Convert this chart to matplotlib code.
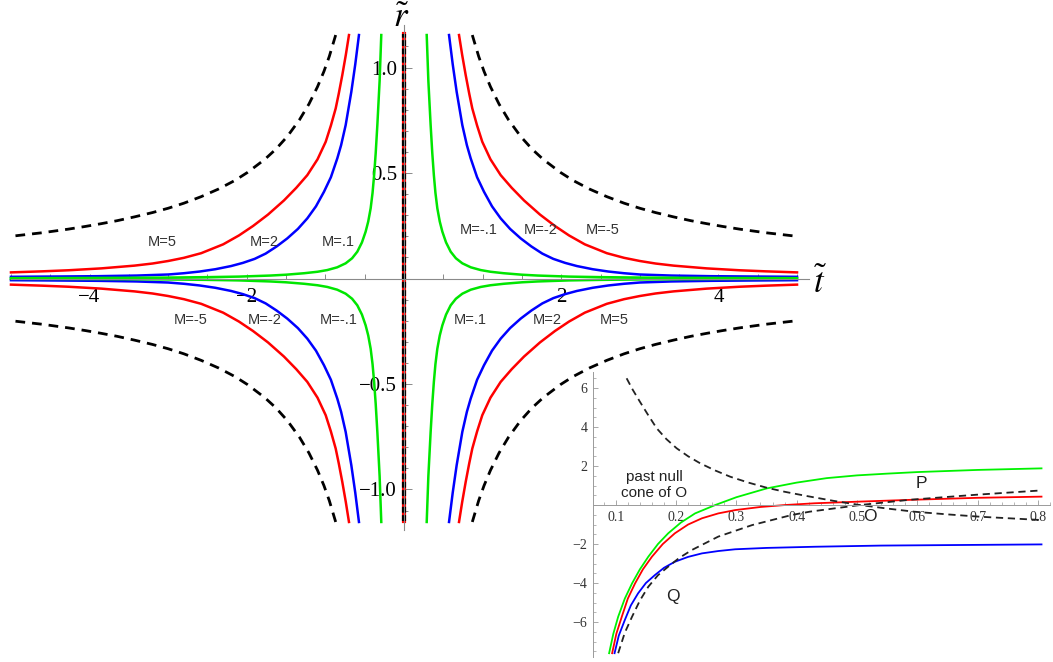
import numpy as np
import matplotlib.pyplot as plt
from matplotlib.ticker import FixedLocator, MultipleLocator

plt.rcParams['mathtext.fontset'] = 'stix'
SERIF = 'Liberation Serif'
SANS = 'Liberation Sans'

# main panel: one quadrant (t > 0, r > 0) of each curve;
# the other three quadrants are mirror images
t_dash = [0.869, 0.95, 1.018, 1.1, 1.209, 1.33, 1.485, 1.63, 1.77, 1.99, 2.15, 2.36, 2.58,
          2.8, 3.0, 3.2, 3.43, 3.65, 3.85, 4.05, 4.27, 4.6, 5.0]
r_dash = [1.154, 1.053, 0.982, 0.909, 0.827, 0.752, 0.673, 0.613, 0.565, 0.503, 0.465, 0.424, 0.388,
          0.357, 0.333, 0.3125, 0.292, 0.274, 0.26, 0.247, 0.234, 0.217, 0.20]

t_red = [0.70, 0.74, 0.785, 0.83, 0.869, 0.93, 0.996, 1.1, 1.23, 1.37, 1.527, 1.73, 1.92,
         2.1, 2.30, 2.58, 2.8, 3.0, 3.2, 3.43, 3.85, 4.27, 4.6, 5.0]
r_red = [1.154, 1.06, 0.964, 0.876, 0.806, 0.725, 0.648, 0.565, 0.49, 0.43, 0.37, 0.303, 0.249,
         0.204, 0.162, 0.12, 0.098, 0.083, 0.071, 0.061, 0.048, 0.039, 0.034, 0.029]

t_blue = [0.573, 0.62, 0.67, 0.742, 0.80, 0.848, 0.93, 1.018, 1.12, 1.23, 1.35, 1.485, 1.62,
          1.76, 1.9, 2.05, 2.2, 2.4, 2.6, 2.8, 3.0, 3.4, 3.9, 4.4, 5.0]
r_blue = [1.154, 1.015, 0.885, 0.727, 0.632, 0.57, 0.48, 0.411, 0.342, 0.285, 0.235, 0.19, 0.152,
          0.118, 0.093, 0.074, 0.059, 0.044, 0.033, 0.025, 0.019, 0.014, 0.011, 0.0095, 0.008]

t_green = [0.289, 0.31, 0.339, 0.36, 0.38, 0.40, 0.424, 0.455, 0.488, 0.535, 0.594, 0.66, 0.742,
           0.85, 0.976, 1.1, 1.27, 1.5, 1.7, 2.1, 2.5, 3.0, 3.5, 4.2, 5.0]
r_green = [1.154, 0.937, 0.727, 0.594, 0.49, 0.406, 0.333, 0.27, 0.222, 0.171, 0.127, 0.096, 0.072,
           0.053, 0.040, 0.032, 0.025, 0.018, 0.014, 0.009, 0.0065, 0.0045, 0.0033, 0.0023, 0.0016]

# M labels per quadrant (upper-left, upper-right, lower-left, lower-right)
labels_ul = ['M=5', 'M=2', 'M=.1']
labels_ur = ['M=-.1', 'M=-2', 'M=-5']
labels_ll = ['M=-5', 'M=-2', 'M=-.1']
labels_lr = ['M=.1', 'M=2', 'M=5']

# inset panel
u_green = [0.089, 0.096, 0.104, 0.115, 0.127, 0.14, 0.154, 0.17, 0.187, 0.208, 0.2315, 0.265,
           0.30, 0.35, 0.40, 0.45, 0.50, 0.55, 0.60, 0.70, 0.806]
v_green = [-7.6, -6.6, -5.73, -4.8, -4.02, -3.3, -2.65, -2.0, -1.45, -0.9, -0.43, 0.0,
           0.40, 0.85, 1.15, 1.38, 1.52, 1.61, 1.69, 1.80, 1.88]

u_red = [0.094, 0.101, 0.110, 0.12, 0.132, 0.145, 0.160, 0.178, 0.198, 0.22, 0.243, 0.27,
         0.298, 0.34, 0.381, 0.43, 0.50, 0.588, 0.70, 0.806]
v_red = [-7.6, -6.6, -5.73, -4.8, -4.02, -3.3, -2.65, -2.0, -1.45, -1.0, -0.68, -0.43,
         -0.26, -0.1, 0.0, 0.09, 0.17, 0.265, 0.37, 0.43]

u_blue = [0.098, 0.105, 0.115, 0.125, 0.137, 0.15, 0.165, 0.18, 0.198, 0.22, 0.243, 0.27,
          0.298, 0.35, 0.43, 0.54, 0.806]
v_blue = [-7.6, -6.7, -5.9, -5.15, -4.53, -4.0, -3.59, -3.22, -2.91, -2.66, -2.48, -2.36,
          -2.27, -2.2, -2.14, -2.08, -2.02]

u_cone_up = [0.104, 0.115, 0.127, 0.14, 0.154, 0.17, 0.187, 0.205, 0.226, 0.270, 0.326, 0.392,
             0.422, 0.505, 0.588, 0.699, 0.806]
v_cone_up = [-7.6, -6.55, -5.73, -4.9, -4.19, -3.6, -3.16, -2.72, -2.31, -1.62, -1.03, -0.51,
             -0.34, 0.0, 0.27, 0.53, 0.75]

u_cone_down = [0.118, 0.128, 0.140, 0.153, 0.168, 0.184, 0.201, 0.22, 0.240, 0.265, 0.290, 0.32,
               0.350, 0.38, 0.417, 0.46, 0.505, 0.55, 0.594, 0.65, 0.704, 0.806]
v_cone_down = [6.5, 5.92, 5.3, 4.65, 3.93, 3.38, 2.91, 2.5, 2.14, 1.77, 1.45, 1.15,
               0.89, 0.68, 0.46, 0.22, 0.0, -0.18, -0.34, -0.48, -0.6, -0.77]

fig = plt.figure(figsize=(10.53, 6.62), dpi=100)

# ---------- main panel ----------
ax = fig.add_axes([0.00294, 0.1905, 0.7689, 0.7776])
ax.set_xlim(-5.1, 5.2)
ax.set_ylim(-1.22, 1.22)
ax.patch.set_alpha(0)

for sx in (-1, 1):
    for sy in (-1, 1):
        ax.plot(sx * np.array(t_dash), sy * np.array(r_dash), color='black', lw=2, dashes=(3.5, 2.5))
        ax.plot(sx * np.array(t_red), sy * np.array(r_red), color=(1, 0, 0), lw=1.8)
        ax.plot(sx * np.array(t_blue), sy * np.array(r_blue), color=(0, 0, 1), lw=1.8)
        ax.plot(sx * np.array(t_green), sy * np.array(r_green), color=(0, 0.9, 0), lw=1.8)

# the curves collapse onto t = 0
ax.plot([0, 0], [-1.15, 1.16], color='red', lw=3)
ax.plot([0, 0], [-1.15, 1.16], color='black', lw=3, dashes=(1.4, 0.6))

for s in ('top', 'right'):
    ax.spines[s].set_visible(False)
ax.spines['bottom'].set_position(('data', 0))
ax.spines['left'].set_position(('data', 0))
ax.spines['bottom'].set_bounds(-5.0, 5.15)
ax.spines['left'].set_bounds(-1.19, 1.2)
for s in ('bottom', 'left'):
    ax.spines[s].set_color('#8a8a8a')
    ax.spines[s].set_linewidth(0.8)

ax.xaxis.set_major_locator(FixedLocator([-4, -2, 2, 4]))
ax.xaxis.set_minor_locator(FixedLocator([v for v in np.arange(-5, 5.01, 0.5) if abs(v) > 0.01]))
ax.yaxis.set_major_locator(FixedLocator([-1.0, -0.5, 0.5, 1.0]))
ax.yaxis.set_minor_locator(FixedLocator([v for v in np.arange(-1.1, 1.11, 0.1) if abs(v) > 0.01]))
ax.xaxis.set_major_formatter(plt.FuncFormatter(lambda v, p: f'{v:.0f}'.replace('-', '\u2212')))
ax.yaxis.set_major_formatter(plt.FuncFormatter(lambda v, p: f'{v:.1f}'.replace('-', '\u2212')))
ax.tick_params(axis='x', which='both', direction='in', length=3.6, width=0.7, color='#8a8a8a', pad=7)
ax.tick_params(axis='y', which='major', direction='in', length=5.5, width=0.7, color='#8a8a8a', pad=5)
ax.tick_params(axis='y', which='minor', direction='in', length=3.2, width=0.7, color='#8a8a8a')
for lab in ax.get_xticklabels() + ax.get_yticklabels():
    lab.set_fontfamily(SERIF)
    lab.set_fontsize(15)

ax.text(-0.04, 1.192, r'$\tilde{r}$', fontsize=25, ha='center', va='baseline', clip_on=False)
ax.text(5.29, -0.069, r'$\tilde{t}$', fontsize=25, ha='center', va='baseline', clip_on=False)

lab_kw = dict(fontsize=10.5, family=SANS, color='#333333', ha='center', va='center')
for txt, t in zip(labels_ul, [-3.08, -1.775, -0.833]):
    ax.text(t, 0.173, txt, **lab_kw)
for txt, t in zip(labels_ur, [0.948, 1.743, 2.53]):
    ax.text(t, 0.23, txt, **lab_kw)
for txt, t in zip(labels_ll, [-2.71, -1.77, -0.827]):
    ax.text(t, -0.197, txt, **lab_kw)
for txt, t in zip(labels_lr, [0.84, 1.826, 2.68]):
    ax.text(t, -0.197, txt, **lab_kw)

# ---------- inset ----------
axi = fig.add_axes([0.563, 0.0074, 0.4341, 0.430])
axi.set_xlim(0.062, 0.82)
axi.set_ylim(-7.8, 6.8)
axi.patch.set_alpha(0)

axi.plot(u_green, v_green, color=(0, 0.95, 0), lw=1.3)
axi.plot(u_red, v_red, color=(1, 0, 0), lw=1.3)
axi.plot(u_blue, v_blue, color=(0, 0, 1), lw=1.3)
axi.plot(u_cone_up, v_cone_up, color='#222222', lw=1.3, dashes=(4, 2.6))
axi.plot(u_cone_down, v_cone_down, color='#222222', lw=1.3, dashes=(4, 2.6))

for s in ('top', 'right'):
    axi.spines[s].set_visible(False)
axi.spines['bottom'].set_position(('data', 0))
for s in ('bottom', 'left'):
    axi.spines[s].set_color('#9a9a9a')
    axi.spines[s].set_linewidth(0.7)

axi.xaxis.set_major_locator(FixedLocator([0.1, 0.2, 0.3, 0.4, 0.5, 0.6, 0.7, 0.8]))
axi.xaxis.set_minor_locator(MultipleLocator(0.02))
axi.yaxis.set_major_locator(FixedLocator([-6, -4, -2, 2, 4, 6]))
axi.yaxis.set_minor_locator(MultipleLocator(0.5))
axi.xaxis.set_major_formatter(plt.FuncFormatter(lambda v, p: f'{v:.1f}'))
axi.yaxis.set_major_formatter(plt.FuncFormatter(lambda v, p: f'{v:.0f}'.replace('-', '\u2212')))
axi.tick_params(which='major', direction='in', length=3.8, width=0.6, color='#9a9a9a',
                labelsize=10, labelcolor='#333333', pad=4)
axi.tick_params(which='minor', direction='in', length=2.0, width=0.5, color='#9a9a9a')
for lab in axi.get_xticklabels() + axi.get_yticklabels():
    lab.set_fontfamily(SERIF)

txt_kw = dict(family=SANS, color='#222222', ha='center', va='center')
axi.text(0.1635, 1.03, 'past null\ncone of O', fontsize=11, linespacing=1.25, **txt_kw)
axi.text(0.607, 1.08, 'P', fontsize=12.5, **txt_kw)
axi.text(0.522, -0.6, 'O', fontsize=12.5, **txt_kw)
axi.text(0.1945, -4.67, 'Q', fontsize=12.5, **txt_kw)

fig.savefig('out.png', dpi=100)
